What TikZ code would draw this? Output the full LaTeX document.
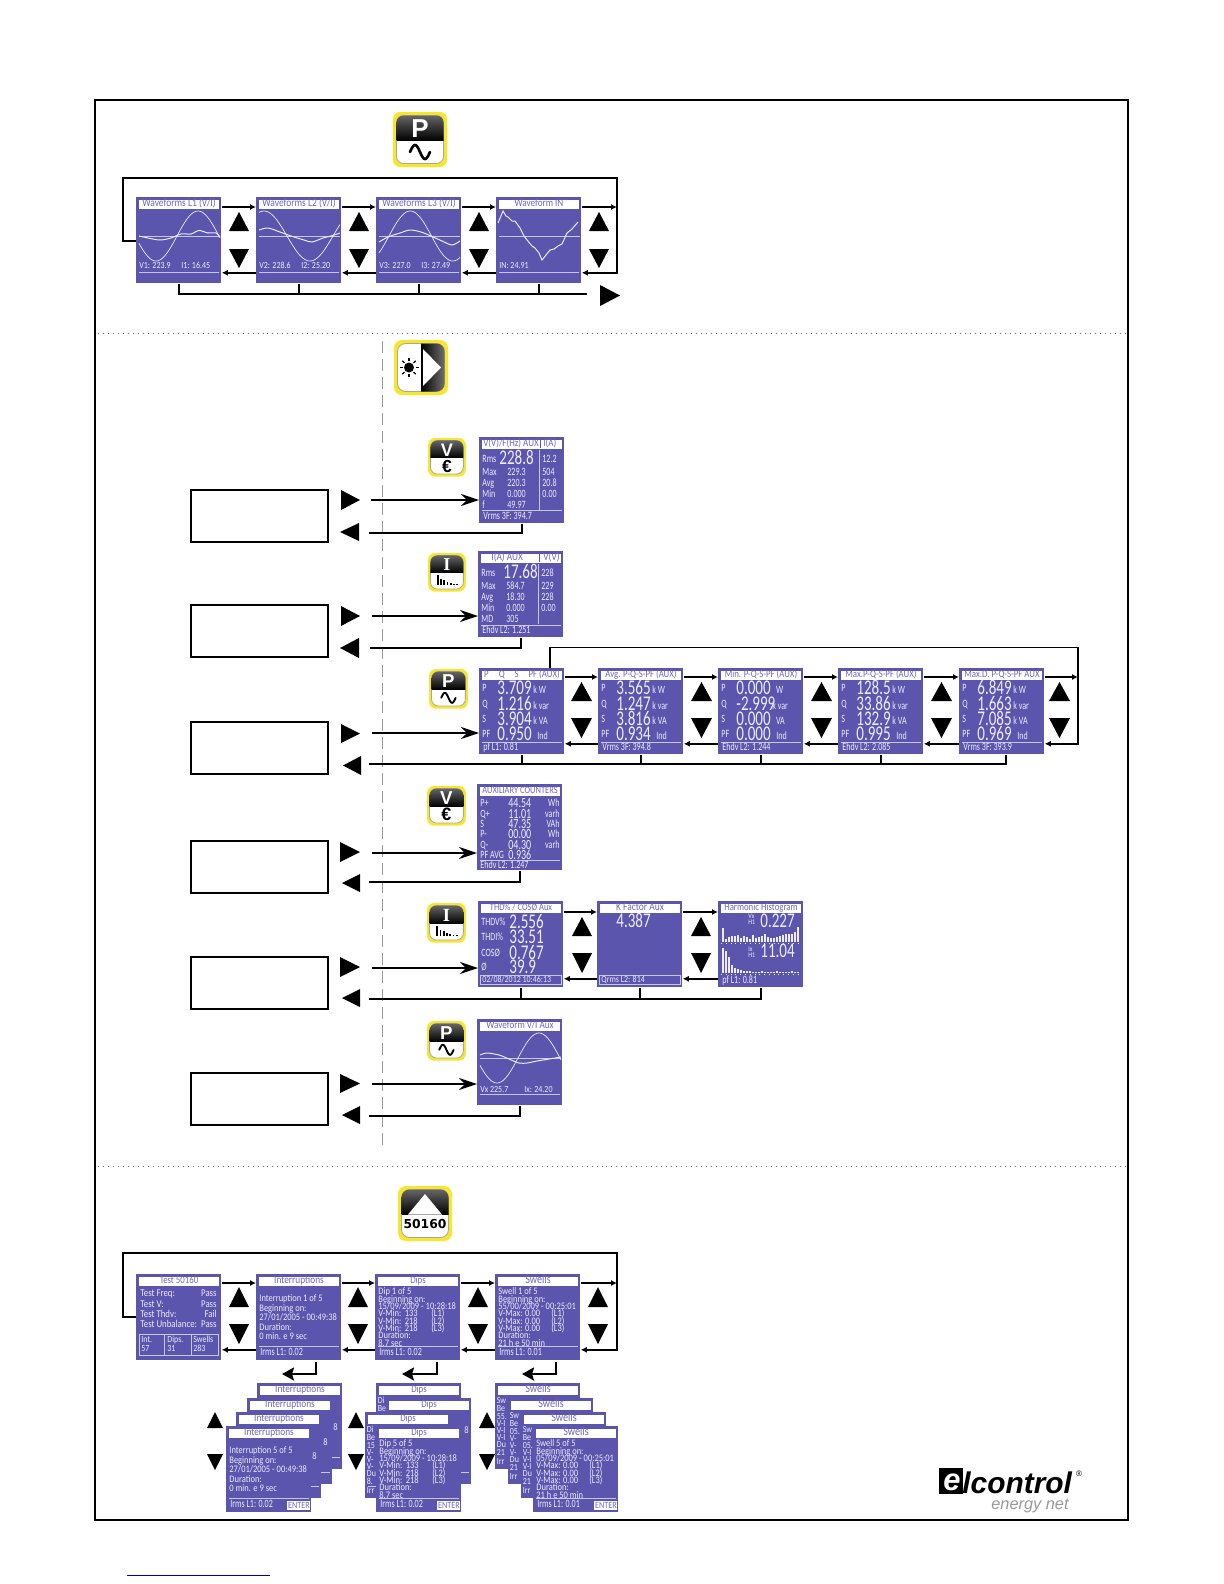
\documentclass[tikz,border=0pt]{standalone}
\usepackage{fontspec}
\usetikzlibrary{arrows.meta,calc}
\newfontfamily\lcdf[FakeStretch=0.85]{Carlito}
\newfontfamily\lcdb[FakeStretch=0.72]{Carlito}
\newfontfamily\hv{Liberation Sans}
\newfontfamily\tms{Liberation Serif}
\newfontfamily\djv{DejaVu Sans}
\definecolor{lcdbg}{HTML}{5B55AE}
\definecolor{lcdfg}{HTML}{EDEBFA}
\definecolor{lcdrule}{HTML}{C9C6EE}
\definecolor{lcdtitle}{HTML}{6E68BC}
\definecolor{iconyellow}{HTML}{F7E62A}
\newcounter{tn}
\tikzset{
  screen/.style={fill=lcdbg,anchor=north west,minimum width=42.5bp,minimum height=43bp,inner sep=0pt},
  lab/.style={anchor=west,inner sep=0pt,text=lcdfg},
  lcdS/.style={font=\lcdf\fontsize{4.7}{5}\selectfont,text height=3pt,text depth=0pt},
  lcdC/.style={font=\lcdf\fontsize{5}{5}\selectfont,text height=3pt,text depth=0pt},
  lcdM/.style={font=\lcdb\fontsize{5.6}{6}\selectfont,text height=3.6pt,text depth=0pt},
  lcdH/.style={font=\lcdb\fontsize{7}{8}\selectfont,text height=4.4pt,text depth=0pt},
  lcdL/.style={font=\lcdb\fontsize{10.5}{11}\selectfont,text height=6.6pt,text depth=0pt},
  titlebar/.style={fill=white,text=lcdtitle,inner sep=0pt,minimum width=40bp,minimum height=4.4bp,
     text height=3.3pt,text depth=1.1pt,anchor=north},
  lcdline/.style={draw=lcdrule,line width=0.45bp},
  wave/.style={draw=lcdfg,line width=0.35bp},
  conn/.style={draw=black,line width=0.9bp},
  thinconn/.style={draw=black,line width=0.7bp},
  arr/.style={conn,-{Latex[length=3bp,width=3bp]}},
  bigarr/.style={thinconn,-{Stealth[length=9bp,width=6bp,inset=3bp]}},
  retarr/.style={draw=black,line width=1.2bp,-{Stealth[length=6bp,width=6.5bp,inset=1bp]}},
  emptybox/.style={draw=black,line width=0.9bp,anchor=north west,minimum width=68.5bp,minimum height=26bp,inner sep=0pt},
  icontext/.style={inner sep=0pt,transform shape},
}
\newcommand\lab[4][]{\stepcounter{tn}\node[lab,lcdS,#1] (t\arabic{tn}) at (#2,#3) {#4};}
\newcommand\iclab[4][]{\stepcounter{tn}\node[icontext,#1] (t\arabic{tn}) at (#2,#3) {#4};}
\newcommand\lcdtit[2][5.5]{\stepcounter{tn}\node[titlebar,font=\lcdf\fontsize{#1}{#1}\selectfont] (t\arabic{tn}) at (43,2.5) {#2};}
\newcommand\lcdscr[4]{\node[screen] (#1) at (#2,#3) {};\begin{scope}[shift={(#2,#3)}]#4\end{scope}}
\newcommand\rul[1]{\draw[lcdline] (3,#1) -- (83,#1);}
\newcommand\TU[4]{\fill[black] (#1,#3) -- ({#1+#4},#3) -- ({#1+#4/2},#2) -- cycle;}
\newcommand\TD[4]{\fill[black] (#1,#2) -- ({#1+#4},#2) -- ({#1+#4/2},#3) -- cycle;}
\newcommand\TR[4]{\fill[black] (#1,#2) -- (#1,#4) -- (#3,{(#2+#4)/2}) -- cycle;}
\newcommand\TL[4]{\fill[black] (#3,#2) -- (#3,#4) -- (#1,{(#2+#4)/2}) -- cycle;}
\newcommand\iconbase[5]{\begin{scope}[shift={(#1,#2)},scale=#3]
  \fill[iconyellow,rounded corners=#4] (0,0) rectangle (54,55);
  \fill[white,draw=black!35,line width=.4bp,rounded corners=#4] (3.5,3.5) rectangle (50.5,51.5);
  \begin{scope}\clip[rounded corners=#4] (3.5,3.5) rectangle (50.5,51.5);
  #5
  \end{scope}\end{scope}}
\newcommand\darktop{\shade[top color=black!55,bottom color=black] (0,0) rectangle (54,28.5);}
\newcommand\iconP[3]{\iconbase{#1}{#2}{#3}{3.5bp}{\darktop
  \iclab[text=white,font=\hv\bfseries\fontsize{13}{13}\selectfont]{27}{17}{P}
  \draw[black,line width={1.3bp*#3},line cap=round] plot[domain=17:37,samples=30] (\x,{40+7*sin(18*(\x-27))});}}
\newcommand\iconV[3]{\iconbase{#1}{#2}{#3}{3.5bp}{\darktop
  \iclab[text=white,font=\hv\bfseries\fontsize{13}{13}\selectfont]{27}{17}{V}
  \iclab[text=black,font=\hv\bfseries\fontsize{12.5}{12.5}\selectfont]{27}{40}{€}}}
\newcommand\iconI[3]{\iconbase{#1}{#2}{#3}{3.5bp}{\darktop
  \iclab[text=white,font=\tms\bfseries\fontsize{13}{13}\selectfont]{27}{17}{I}
  \foreach \hh/\xx in {14/13,9/17.5,7/22,4/26.5,3/31,2/35.5,2/40}{\fill[black] (\xx,46) rectangle ({\xx+2.6},{46-\hh});}}}
\begin{document}
\begin{tikzpicture}[x=0.5bp,y=-0.5bp]
\useasboundingbox (0,0) rectangle (1224,1584);
\path[fill=white] (0,0) rectangle (1224,1584);
\draw[black,line width=1bp] (95,100) rectangle (1128,1520);
\draw[black!60,line width=.5bp,dotted] (98,333) -- (1125,333);
\draw[black!60,line width=.5bp,dotted] (98,1166) -- (1125,1166);
\draw[black!40,line width=.5bp,dash pattern=on 6bp off 3bp] (382,341) -- (382,1148);
\draw[blue!70!black,line width=.5bp] (127,1575) -- (270,1575);

% ------- section 1 icon
\iconP{393}{112}{1}

% ------- waveform screens
\lcdscr{w1}{136}{197}{\lcdtit[5.6]{Waveforms L1 (V/I)}
  \draw[lcdline] (3,39) -- (84,39);
  \draw[wave] plot[domain=3:84,samples=60] (\x,{39-25*sin(4.2857*(\x-41))});
  \draw[wave,line width=.5bp] plot[smooth] coordinates {(3,39)(12,41)(24,43)(35,41)(45,37)(55,37)(63,33.5)(72,36)(80,36)(84,40)};
  \lab{3}{69}{V1: 223.9}\lab{45}{69}{I1: 16.45}\rul{75}}
\lcdscr{w2}{256}{197}{\lcdtit[5.6]{Waveforms L2 (V/I)}
  \draw[lcdline] (3,39) -- (84,39);
  \draw[wave] plot[domain=3:84,samples=60] (\x,{39-25*cos(3.913*(\x-8))});
  \draw[wave,line width=.5bp] plot[smooth] coordinates {(3,33)(12,31)(24,35)(35,39)(48,43)(56,45)(67,41)(75,39)(84,36)};
  \lab{3}{69}{V2: 228.6}\lab{45}{69}{I2: 25.20}\rul{75}}
\lcdscr{w3}{376}{197}{\lcdtit[5.6]{Waveforms L3 (V/I)}
  \draw[lcdline] (3,39) -- (84,39);
  \draw[wave] plot[domain=3:84,samples=60] (\x,{39-25*sin(4.235*(\x-13))});
  \draw[wave,line width=.5bp] plot[smooth] coordinates {(3,45)(12,40)(24,36)(34,33)(45,35)(55,39)(66,44)(76,48)(84,44)};
  \lab{3}{69}{V3: 227.0}\lab{45}{69}{I3: 27.49}\rul{75}}
\lcdscr{w4}{496}{197}{\lcdtit[5.4]{Waveform IN}
  \draw[lcdline] (3,39) -- (84,39);
  \draw[wave,line width=.5bp] (2,26) -- (7,14) -- (10,19) -- (12,20) -- (16,24) -- (19,24) -- (24,31) -- (28,39) -- (31,43) -- (36,49) -- (39,51) -- (43,56) -- (46,63) -- (50,58) -- (54,53) -- (58,52) -- (62,49) -- (66,47) -- (71,36) -- (76,32) -- (82,25);
  \lab{3}{69}{IN: 24.91}\rul{75}}

\foreach \xx in {229,349,469,589}{\TU{\xx}{212}{231}{20}\TD{\xx}{249}{268}{20}}
\draw[arr] ($(w1.north east)+(0,10)$) -- ($(w2.north west)+(0,10)$);
\draw[arr] ($(w2.north east)+(0,10)$) -- ($(w3.north west)+(0,10)$);
\draw[arr] ($(w3.north east)+(0,10)$) -- ($(w4.north west)+(0,10)$);
\draw[arr] ($(w2.south west)+(0,-11)$) -- ($(w1.south east)+(0,-11)$);
\draw[arr] ($(w3.south west)+(0,-11)$) -- ($(w2.south east)+(0,-11)$);
\draw[arr] ($(w4.south west)+(0,-11)$) -- ($(w3.south east)+(0,-11)$);
\coordinate (la) at (123,178);\coordinate (lb) at (617,178);\coordinate (lc) at (617,207);
\coordinate (busend) at (587,294);
\draw[arr] ($(w4.north east)+(0,10)$) -- (lc);
\draw[conn] ($(w1.north west)+(0,44)$) -| (la) -- (lb) -- (lc);
\draw[arr] (lc) |- ($(w4.south east)+(0,-11)$);
\draw[conn] (w1.south) |- (busend);
\draw[conn] (w2.south) -- (w2.south |- busend);
\draw[conn] (w3.south) -- (w3.south |- busend);
\draw[conn] (w4.south) -- (w4.south |- busend);
\TR{600}{285}{620}{306}

% ------- section 2
\iconbase{394}{340}{1}{4bp}{
  \shade[left color=black,right color=black!50] (27,0) rectangle (54,55);
  \fill[white] (29,9) -- (29,46) -- (47,27.5) -- cycle;
  \fill[black] (15,27.5) circle (5);
  \foreach \aa in {0,45,...,315}{\draw[black,line width=.55bp] ($(15,27.5)+(\aa:6.5)$) -- ($(15,27.5)+(\aa:9.5)$);}}

\foreach \nm/\yy in {box1/489,box2/604,box3/721,box4/840,box5/956,box6/1072}{\node[emptybox] (\nm) at (190,\yy) {};}

% --- row V
\iconV{428}{438}{0.7}
\lcdscr{sv}{479}{437}{\lcdtit{}
  \draw[lcdbg,line width=.4bp] (61,2.5) -- (61,11.3);
  \lab[text=lcdtitle,font=\lcdf\fontsize{5.3}{5}\selectfont]{4}{7}{V(V)/F(Hz) AUX}\lab[text=lcdtitle,font=\lcdf\fontsize{5.3}{5}\selectfont]{64}{7}{I(A)}
  \draw[lcdline] (60,13) -- (60,73);\rul{73}
  \lab[lcdM]{3}{22}{Rms}\lab[lcdL]{20}{21}{228.8}\lab[lcdM]{63}{22}{12.2}
  \lab[lcdM]{3}{35}{Max}\lab[lcdM]{28}{35}{229.3}\lab[lcdM]{63}{35}{504}
  \lab[lcdM]{3}{46}{Avg}\lab[lcdM]{28}{46}{220.3}\lab[lcdM]{63}{46}{20.8}
  \lab[lcdM]{3}{57}{Min}\lab[lcdM]{28}{57}{0.000}\lab[lcdM]{63}{57}{0.00}
  \lab[lcdM]{3}{68}{f}\lab[lcdM]{28}{68}{49.97}
  \lab[lcdM]{4}{79}{Vrms 3F: 394.7}}
\TR{341}{490}{360}{510}\TL{340}{523}{359}{541}
\coordinate (a1) at (371,500);\coordinate (b1) at (369,533);
\draw[bigarr] (a1) -- (a1 -| sv.west);
\draw[conn] (sv.south) |- (b1);

% --- row I
\iconI{428}{553}{0.7}
\lcdscr{si}{478}{551}{\lcdtit{}
  \draw[lcdbg,line width=.4bp] (61,2.5) -- (61,11.3);
  \lab[text=lcdtitle,font=\lcdf\fontsize{5.5}{5}\selectfont]{13}{7}{I(A) AUX}\lab[text=lcdtitle,font=\lcdf\fontsize{5.5}{5}\selectfont]{65}{7}{V(V)}
  \draw[lcdline] (60,13) -- (60,73);\rul{74}
  \lab[lcdM]{3}{22}{Rms}\lab[lcdL]{25}{21}{17.68}\lab[lcdM]{63}{22}{228}
  \lab[lcdM]{3}{35}{Max}\lab[lcdM]{28}{35}{584.7}\lab[lcdM]{63}{35}{229}
  \lab[lcdM]{3}{46}{Avg}\lab[lcdM]{28}{46}{18.30}\lab[lcdM]{63}{46}{228}
  \lab[lcdM]{3}{57}{Min}\lab[lcdM]{28}{57}{0.000}\lab[lcdM]{63}{57}{0.00}
  \lab[lcdM]{3}{68}{MD}\lab[lcdM]{28}{68}{305}
  \lab[lcdM]{4}{79}{Ehdv L2: 1.251}}
\TR{341}{606}{360}{626}\TL{340}{638}{359}{658}
\coordinate (a2) at (372,616);\coordinate (b2) at (370,648);
\draw[bigarr] (a2) -- (a2 -| si.west);
\draw[conn] (si.south) |- (b2);

% --- row P
\iconP{429}{669}{0.72}
\newcommand\pwr[9]{\lcdscr{#1}{#2}{668}{\lcdtit[5.2]{#3}
  \lab[lcdM]{3}{20}{P}\lab[lcdL]{18}{20}{#4}\lab[lcdM]{54}{22}{#8W}
  \lab[lcdM]{3}{36}{Q}\lab[lcdL]{18}{36}{#5}\lab[lcdM]{54}{38}{#9var}
  \lab[lcdM]{3}{51}{S}\lab[lcdL]{18}{51}{#6}\lab[lcdM]{54}{53}{#8VA}
  \lab[lcdM]{3}{66}{PF}\lab[lcdL]{18}{66}{#7}\lab[lcdM]{58}{68}{Ind}
  \rul{74}}}
\pwr{p1}{479}{P\hspace{5pt}Q\hspace{5pt}S\hspace{5pt}PF (AUX)}{3.709}{1.216}{3.904}{0.950}{k }{k }
\lab[lcdM]{483}{747}{pf L1: 0.81}
\pwr{p2}{598}{Avg. P-Q-S-PF (AUX)}{3.565}{1.247}{3.816}{0.934}{k }{k }
\lab[lcdM]{602}{747}{Vrms 3F: 394.8}
\pwr{p3}{718}{Min. P-Q-S-PF (AUX)}{0.000}{-2.999}{0.000}{0.000}{\ \ }{k }
\lab[lcdM]{722}{747}{Ehdv L2: 1.244}
\pwr{p4}{838}{Max.P-Q-S-PF (AUX)}{128.5}{33.86}{132.9}{0.995}{k }{k }
\lab[lcdM]{842}{747}{Ehdv L2: 2.085}
\pwr{p5}{959}{Max.D. P-Q-S-PF AUX}{6.849}{1.663}{7.085}{0.969}{k }{k }
\lab[lcdM]{963}{747}{Vrms 3F: 393.9}
\foreach \xx in {571,691,811,931,1049}{\TU{\xx}{682}{701}{21}\TD{\xx}{718}{738}{21}}
\foreach \aa/\bb in {p1/p2,p2/p3,p3/p4,p4/p5}{
  \draw[arr] ($(\aa.north east)+(0,9)$) -- ($(\bb.north west)+(0,9)$);
  \draw[arr] ($(\bb.south west)+(0,-11)$) -- ($(\aa.south east)+(0,-11)$);}
\coordinate (pl1) at (550,647.5);\coordinate (pl2) at (1078,647.5);\coordinate (pl3) at (1078,677);
\draw[arr] ($(p5.north east)+(0,9)$) -- (pl3);
\draw[conn,line width=.7bp] ($(p1.north west)+(71,0)$) -- (pl1) -- (pl2) -- (pl3);
\draw[arr] (pl3) |- ($(p5.south east)+(0,-11)$);
\TR{341}{724}{360}{743}\TL{343}{756}{361}{775}
\coordinate (a3) at (372,733);\coordinate (b3) at (369,764);
\draw[bigarr] (a3) -- (a3 -| p1.west);
\draw[conn] ($(p5.south)+(4,0)$) |- (b3);
\foreach \aa in {p1,p2,p3,p4}{\draw[conn] (\aa.south) -- (\aa.south |- b3);}

% --- row counters
\iconV{427}{786}{0.72}
\lcdscr{sc}{477}{784}{\lcdtit[5]{AUXILIARY COUNTERS}
  \lab[lcdM]{3}{19}{P+}\lab[lcdH]{31}{19}{44.54}\lab[lcdM,anchor=east]{83}{19}{Wh}
  \lab[lcdM]{3}{30}{Q+}\lab[lcdH]{31}{30}{11.01}\lab[lcdM,anchor=east]{83}{30}{varh}
  \lab[lcdM]{3}{40}{S}\lab[lcdH]{31}{40}{47.35}\lab[lcdM,anchor=east]{83}{40}{VAh}
  \lab[lcdM]{3}{50}{P-}\lab[lcdH]{31}{50}{00.00}\lab[lcdM,anchor=east]{83}{50}{Wh}
  \lab[lcdM]{3}{61}{Q-}\lab[lcdH]{31}{61}{04.30}\lab[lcdM,anchor=east]{83}{61}{varh}
  \lab[lcdM]{3}{71}{PF AVG}\lab[lcdH]{31}{71}{0.936}
  \rul{76}\lab[lcdM]{3}{81}{Ehdv L2: 1.247}}
\TR{340}{842}{360}{862}\TL{342}{874}{360}{892}
\coordinate (a4) at (372,853);\coordinate (b4) at (369,882);
\draw[bigarr] (a4) -- (a4 -| sc.west);
\draw[conn] (sc.south) |- (b4);

% --- row THD
\iconI{427}{903}{0.72}
\lcdscr{h1}{478}{901}{\lcdtit[5]{THD\% / COSØ Aux}
  \lab[lcdM]{3}{21}{THDV\%}\lab[lcdL]{31}{21}{2.556}
  \lab[lcdM]{3}{36}{THDI\%}\lab[lcdL]{31}{36}{33.51}
  \lab[lcdM]{3}{52}{COSØ}\lab[lcdL]{31}{52}{0.767}
  \lab[lcdM]{3}{66}{Ø}\lab[lcdL]{31}{66}{39.9}
  \draw[lcdline] (2,74) rectangle (83,83);\lab{4}{78.5}{02/08/2012 10:46:13}}
\lcdscr{h2}{597}{901}{\lcdtit[5.6]{K Factor Aux}
  \lab[lcdL]{19}{20}{4.387}
  \draw[lcdline] (2,74) rectangle (83,83);\lab{4}{78.5}{Qrms L2: 814}}
\lcdscr{h3}{718}{901}{\lcdtit[5.2]{Harmonic Histogram}
  \lab[lcdS,font=\lcdf\fontsize{3.6}{3.6}\selectfont]{30}{14}{Vx}\lab[lcdS,font=\lcdf\fontsize{3.6}{3.6}\selectfont]{30}{20}{H1}
  \lab[lcdL]{42}{20}{0.227}
  \foreach \hh [count=\ii] in {14,3,5,6,6,7,4,6,5,3,7,4,5,6,8,5,4,4,5,6,7,8,8,8,10,15}{\fill[lcdfg] ({1+3*\ii},41) rectangle ({2.6+3*\ii},{41-\hh});}
  \draw[lcdfg,line width=.4bp,dotted] (3,42) -- (83,42);
  \lab[lcdS,font=\lcdf\fontsize{3.6}{3.6}\selectfont]{30}{47}{Ix}\lab[lcdS,font=\lcdf\fontsize{3.6}{3.6}\selectfont]{30}{53}{H1}
  \lab[lcdL]{42}{50}{11.04}
  \foreach \hh [count=\ii] in {25,22,16,8,5,4,3,2,2,2,1,1,1,2,1,1,1,1,2,1,1,1,1,2,1,1}{\fill[lcdfg] ({1+3*\ii},72) rectangle ({2.6+3*\ii},{72-\hh});}
  \draw[lcdfg,line width=.4bp,dotted] (3,73) -- (83,73);
  \lab[lcdM]{4}{79}{pf L1: 0.81}}
\TU{572}{917}{936}{20}\TD{572}{953}{973}{20}\TU{691}{917}{936}{20}\TD{691}{953}{973}{20}
\draw[arr] ($(h1.north east)+(0,11)$) -- ($(h2.north west)+(0,11)$);
\draw[arr] ($(h2.north east)+(0,11)$) -- ($(h3.north west)+(0,11)$);
\draw[arr] ($(h2.south west)+(0,-9)$) -- ($(h1.south east)+(0,-9)$);
\draw[arr] ($(h3.south west)+(0,-9)$) -- ($(h2.south east)+(0,-9)$);
\TR{340}{957}{360}{977}\TL{342}{989}{360}{1007}
\coordinate (a5) at (372,968);\coordinate (b5) at (369,999);
\draw[bigarr] (a5) -- (a5 -| h1.west);
\draw[conn] (h3.south) |- (b5);
\draw[conn] (h1.south) -- (h1.south |- b5);
\draw[conn] (h2.south) -- (h2.south |- b5);

% --- row aux wave
\iconP{427}{1021}{0.72}
\lcdscr{sw}{477}{1019}{\lcdtit[5.4]{Waveform V/I Aux}
  \draw[lcdline] (3,39) -- (84,39);
  \draw[wave] plot[domain=3:84,samples=60] (\x,{39-25*sin(4.2857*(\x-41))});
  \draw[wave,line width=.5bp] plot[smooth] coordinates {(3,36)(10,34)(22,36)(32,40)(42,44)(50,44)(60,42)(72,40)(84,38)};
  \lab{3}{70}{Vx 225.7}\lab{47}{70}{Ix: 24.20}\rul{75}}
\TR{340}{1074}{360}{1093}\TL{342}{1106}{360}{1124}
\coordinate (a6) at (372,1084);\coordinate (b6) at (369,1116);
\draw[bigarr] (a6) -- (a6 -| sw.west);
\draw[conn] (sw.south) |- (b6);

% ------- section 3
\iconbase{398}{1186}{1}{4bp}{\darktop
  \fill[white] (10,28.5) -- (44,28.5) -- (27,8) -- cycle;
  \iclab[text=black,font=\djv\bfseries\fontsize{6.2}{6.2}\selectfont]{27}{38}{50160}}

\lcdscr{n1}{136}{1274}{\lcdtit[5.2]{Test 50160}
  \lab[lcdM,font=\lcdf\fontsize{5.2}{6}\selectfont]{4}{19}{Test Freq:}\lab[lcdM,anchor=east,font=\lcdf\fontsize{5.2}{6}\selectfont]{81}{19}{Pass}
  \lab[lcdM,font=\lcdf\fontsize{5.2}{6}\selectfont]{4}{30}{Test V:}\lab[lcdM,anchor=east,font=\lcdf\fontsize{5.2}{6}\selectfont]{81}{30}{Pass}
  \lab[lcdM,font=\lcdf\fontsize{5.2}{6}\selectfont]{4}{40}{Test Thdv:}\lab[lcdM,anchor=east,font=\lcdf\fontsize{5.2}{6}\selectfont]{81}{40}{Fail}
  \lab[lcdM,font=\lcdf\fontsize{5.2}{6}\selectfont]{4}{50}{Test Unbalance:}\lab[lcdM,anchor=east,font=\lcdf\fontsize{5.2}{6}\selectfont]{81}{50}{Pass}
  \draw[lcdline] (3,60) rectangle (82,81);\draw[lcdline] (28,60) -- (28,81) (55,60) -- (55,81);
  \lab{5}{65}{Int.}\lab{5}{74}{57}\lab{31}{65}{Dips.}\lab{31}{74}{31}\lab{57}{65}{Swells}\lab{57}{74}{283}}

\newcommand\intcard[4]{\lcdscr{#1}{#2}{#3}{\lcdtit{Interruptions}
  \lab[lcdC]{3}{24}{Interruption #4 of 5}\lab[lcdC]{3}{34}{Beginning on:}\lab[lcdC]{3}{43}{27/01/2005 - 00:49:38}
  \lab[lcdC]{3}{53}{Duration:}\lab[lcdC]{3}{62}{0 min. e 9 sec}\rul{72}\lab[lcdM]{4}{78}{Irms L1: 0.02}}}
\newcommand\introar[3]{\lcdscr{#1}{#2}{#3}{\lcdtit{Interruptions}\lab[lcdC]{76}{44}{8}\rul{74}}}
\newcommand\dipcard[4]{\lcdscr{#1}{#2}{#3}{\lcdtit[5.2]{Dips}
  \lab[lcdC]{3}{17}{Dip #4 of 5}\lab[lcdC]{3}{25}{Beginning on:}\lab[lcdC]{3}{32}{15/09/2009 - 10:28:18}
  \lab[lcdC]{3}{39}{V-Min:\ \,133}\lab[lcdC]{56}{39}{(L1)}\lab[lcdC]{3}{47}{V-Min:\ \,218}\lab[lcdC]{56}{47}{(L2)}\lab[lcdC]{3}{54}{V-Min:\ \,218}\lab[lcdC]{56}{54}{(L3)}
  \lab[lcdC]{3}{61}{Duration:}\lab[lcdC]{3}{69}{8.7 sec}\rul{72}\lab[lcdM]{4}{78}{Irms L1: 0.02}}}
\newcommand\swcard[5]{\lcdscr{#1}{#2}{#3}{\lcdtit[6]{Swells}
  \lab[lcdC]{3}{17}{Swell #4 of 5}\lab[lcdC]{3}{25}{Beginning on:}\lab[lcdC]{3}{32}{#5/09/2009 - 00:25:01}
  \lab[lcdC]{3}{39}{V-Max: 0.00}\lab[lcdC]{56}{39}{(L1)}\lab[lcdC]{3}{47}{V-Max: 0.00}\lab[lcdC]{56}{47}{(L2)}\lab[lcdC]{3}{54}{V-Max: 0.00}\lab[lcdC]{56}{54}{(L3)}
  \lab[lcdC]{3}{61}{Duration:}\lab[lcdC]{3}{69}{21 h e 50 min}\rul{72}\lab[lcdM]{4}{78}{Irms L1: 0.01}}}
% what the stacks leave visible of the cards behind
\newcommand\rearlines[4]{\lab{1.5}{17}{#2}\lab{1.5}{25}{Be}\lab{1.5}{33}{#3}\lab{1.5}{40}{#4}\lab{1.5}{47}{#4}\lab{1.5}{54}{#4}\lab{1.5}{61}{Du}\lab{1.5}{69}{#1}\lab{1.5}{78}{Irr}}
\intcard{n2}{256}{1274}{1}
\dipcard{n3}{375}{1274}{1}
\lcdscr{n4}{495}{1274}{\lcdtit[6]{Swells}
  \lab[lcdC]{3}{17}{Swell 1 of 5}\lab[lcdC]{3}{25}{Beginning on:}\lab[lcdC]{3}{32}{55/00/2009 - 00:25:01}
  \lab[lcdC]{3}{39}{V-Max: 0.00}\lab[lcdC]{56}{39}{(L1)}\lab[lcdC]{3}{47}{V-Max: 0.00}\lab[lcdC]{56}{47}{(L2)}\lab[lcdC]{3}{54}{V-Max: 0.00}\lab[lcdC]{56}{54}{(L3)}
  \lab[lcdC]{3}{61}{Duration:}\lab[lcdC]{3}{69}{21 h e 50 min}\rul{72}\lab[lcdM]{4}{78}{Irms L1: 0.01}}
\foreach \xx in {229,348,468,588}{\TU{\xx}{1287}{1307}{20}\TD{\xx}{1324}{1344}{20}}
\foreach \aa/\bb in {n1/n2,n2/n3,n3/n4}{
  \draw[arr] ($(\aa.north east)+(0,9)$) -- ($(\bb.north west)+(0,9)$);
  \draw[arr] ($(\bb.south west)+(0,-11)$) -- ($(\aa.south east)+(0,-11)$);}
\coordinate (ma) at (123,1253);\coordinate (mb) at (617,1253);\coordinate (mc) at (617,1283);
\draw[arr] ($(n4.north east)+(0,9)$) -- (mc);
\draw[conn] ($(n1.north west)+(0,43)$) -| (ma) -- (mb) -- (mc);
\draw[arr] (mc) |- ($(n4.south east)+(0,-11)$);

\coordinate (ra1) at (316,1362);\coordinate (rb1) at (282,1374);
\coordinate (ra2) at (437,1362);\coordinate (rb2) at (402,1374);
\coordinate (ra3) at (556,1362);\coordinate (rb3) at (522,1374);
\draw[retarr] (ra1) |- (rb1);\draw[retarr] (ra2) |- (rb2);\draw[retarr] (ra3) |- (rb3);

% stacks
\newcommand\enterbox[2]{\stepcounter{tn}\node[fill=white,text=lcdtitle,inner sep=0pt,minimum width=11.5bp,minimum height=4.5bp,anchor=west,font=\lcdf\fontsize{4.8}{5}\selectfont,text height=3.2pt,text depth=0pt] (t\arabic{tn}) at (#1,#2) {ENTER};}
\introar{i1}{257}{1383}\introar{i2}{247}{1398}\introar{i3}{236}{1412}\intcard{i4}{226}{1426}{5}
\enterbox{287}{1505}
\lcdscr{d1}{376}{1383}{\lcdtit[5.2]{Dips}\lab{1.5}{17}{Di}\lab{1.5}{25}{Be}}
\lcdscr{d2}{386}{1398}{\lcdtit[5.2]{Dips}\lab[lcdC]{78}{32}{8}\rul{74}}
\lcdscr{d3}{365}{1412}{\lcdtit[5.2]{Dips}\rearlines{8.}{Di}{15}{V-}\rul{74}}
\dipcard{d4}{376}{1426}{5}
\enterbox{437}{1505}
\lcdscr{e1}{495}{1383}{\lcdtit[6]{Swells}\rearlines{21}{Sw}{55.}{V-I}}
\lcdscr{e2}{508}{1398}{\lcdtit[6]{Swells}\rearlines{21}{Sw}{05.}{V-}}
\lcdscr{e3}{521}{1412}{\lcdtit[6]{Swells}\rearlines{21}{Sw}{05.}{V-I}}
\swcard{e4}{533}{1426}{5}{05}
\enterbox{594}{1505}
\foreach \xx in {207,348,479}{\TU{\xx}{1412}{1428}{16}\TD{\xx}{1454}{1470}{16}}

% logo
\fill[black] (939,1468) rectangle (963,1494);
\node[inner sep=0pt,text=white,font=\hv\bfseries\itshape\fontsize{15.5}{15.5}\selectfont] (loge) at (952,1482) {e};
\node[inner sep=0pt,anchor=base west,text=black,font=\hv\bfseries\itshape\fontsize{15}{15}\selectfont] (logc) at (962,1493) {lcontrol};
\node[inner sep=0pt,text=black,font=\hv\fontsize{4}{4}\selectfont] (logr) at (1079,1474) {®};
\node[inner sep=0pt,text=black!40,font=\hv\itshape\fontsize{8.2}{8.2}\selectfont] (logn) at (1030,1506) {energy net};
\end{tikzpicture}
\end{document}
